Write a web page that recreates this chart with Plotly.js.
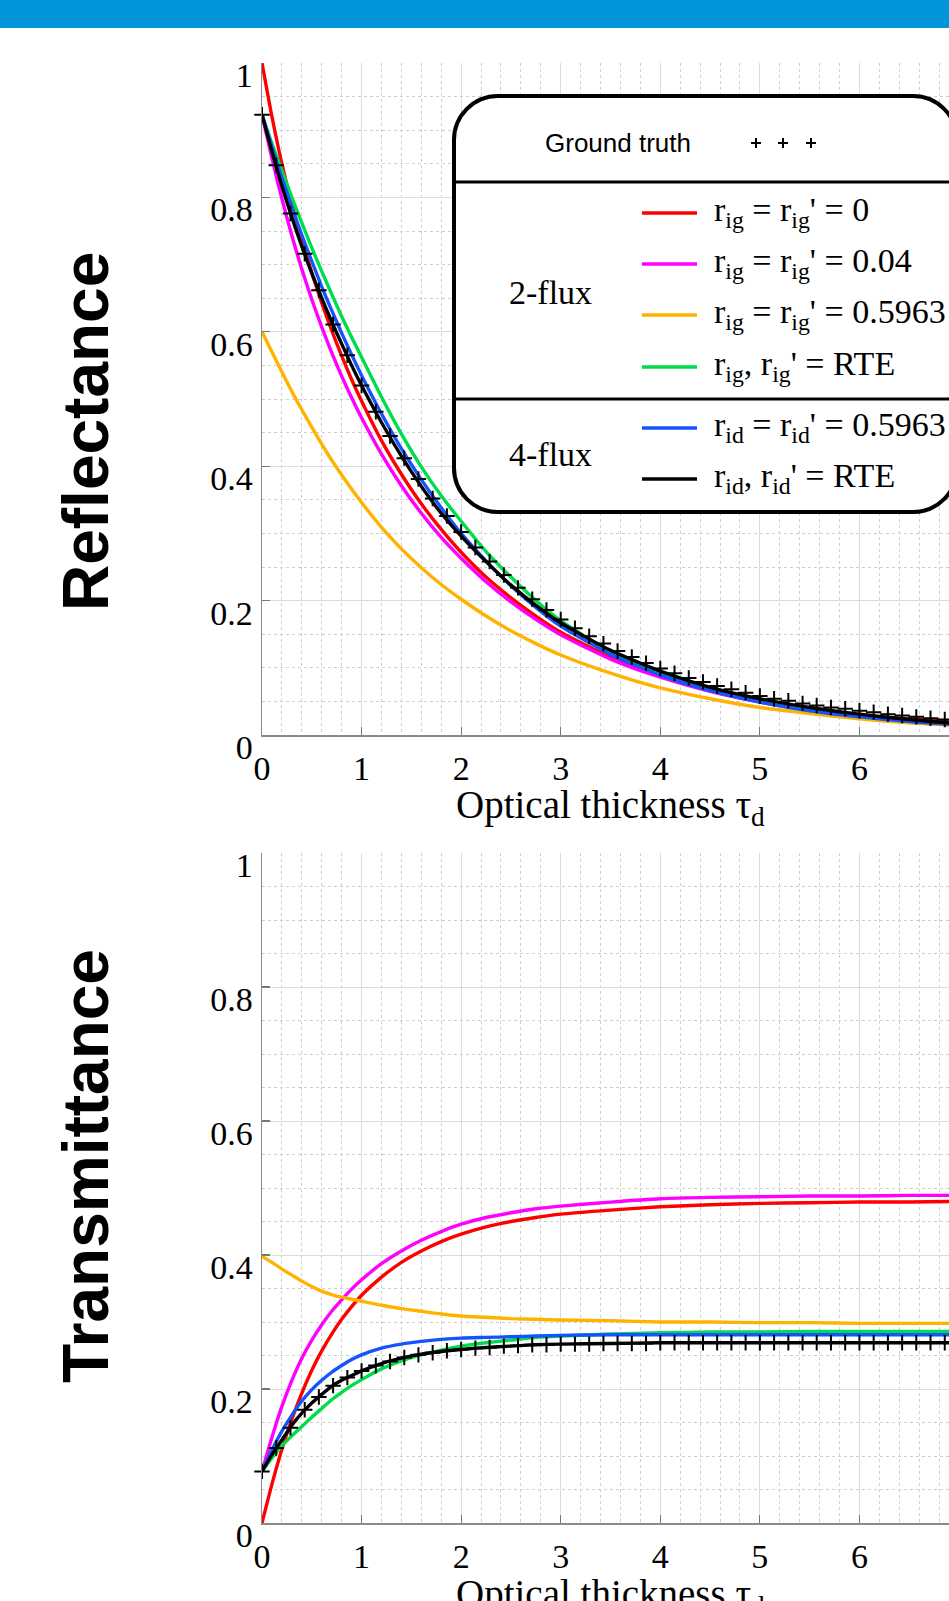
<!DOCTYPE html>
<html><head><meta charset="utf-8">
<script src="https://cdn.plot.ly/plotly-3.0.1.min.js"></script>
<style>html,body{margin:0;padding:0;overflow:hidden;background:#fff}</style>
</head><body><div id="chart" style="width:959px;height:1601px"></div>
<script>
// ---------- data ----------
const tau = [0,0.1,0.2,0.3,0.4,0.5,0.6,0.7,0.8,0.9,1.0,1.2,1.4,1.6,1.8,2.0,2.25,2.5,2.75,3.0,3.5,4.0,4.5,5.0,5.5,6.0,6.5,7.0];

// Reflectance
const R_ig0     = [1.000,0.920,0.850,0.790,0.737,0.688,0.643,0.602,0.564,0.529,0.497,0.438,0.388,0.344,0.306,0.272,0.235,0.204,0.177,0.153,0.116,0.088,0.066,0.050,0.038,0.029,0.024,0.020];
const R_ig004   = [0.923,0.858,0.798,0.743,0.693,0.648,0.607,0.569,0.534,0.502,0.472,0.418,0.371,0.330,0.294,0.263,0.228,0.198,0.172,0.149,0.113,0.086,0.065,0.049,0.037,0.028,0.021,0.016];
const R_ig5963  = [0.600,0.570,0.540,0.511,0.484,0.458,0.433,0.409,0.387,0.366,0.346,0.309,0.277,0.249,0.224,0.202,0.177,0.155,0.136,0.119,0.092,0.070,0.054,0.041,0.032,0.024,0.018,0.014];
const R_igRTE   = [0.923,0.880,0.840,0.800,0.762,0.725,0.690,0.656,0.623,0.592,0.562,0.503,0.448,0.399,0.356,0.318,0.273,0.235,0.200,0.170,0.124,0.091,0.067,0.050,0.037,0.028,0.021,0.016];
const R_id5963  = [0.923,0.875,0.829,0.785,0.744,0.705,0.667,0.632,0.598,0.566,0.535,0.478,0.426,0.380,0.338,0.300,0.259,0.222,0.190,0.162,0.120,0.089,0.066,0.049,0.036,0.027,0.020,0.015];
const R_idRTE   = [0.923,0.868,0.817,0.770,0.727,0.687,0.650,0.615,0.582,0.550,0.520,0.465,0.415,0.370,0.330,0.296,0.258,0.223,0.193,0.167,0.126,0.095,0.071,0.054,0.041,0.031,0.023,0.017];

// Transmittance
const T_ig0     = [0.000,0.058,0.110,0.155,0.194,0.228,0.257,0.282,0.304,0.323,0.340,0.367,0.389,0.406,0.420,0.431,0.442,0.450,0.456,0.461,0.467,0.472,0.475,0.477,0.478,0.479,0.479,0.480];
const T_ig004   = [0.077,0.128,0.174,0.213,0.246,0.273,0.296,0.316,0.333,0.349,0.363,0.387,0.406,0.422,0.435,0.446,0.456,0.463,0.469,0.473,0.479,0.484,0.486,0.487,0.488,0.488,0.489,0.489];
const T_ig5963  = [0.398,0.389,0.379,0.370,0.361,0.353,0.346,0.341,0.337,0.334,0.331,0.325,0.320,0.316,0.312,0.309,0.307,0.305,0.304,0.303,0.302,0.300,0.300,0.299,0.299,0.298,0.298,0.298];
const T_igRTE   = [0.077,0.097,0.115,0.130,0.144,0.158,0.171,0.184,0.195,0.205,0.214,0.230,0.242,0.251,0.258,0.264,0.269,0.273,0.277,0.279,0.282,0.284,0.285,0.285,0.286,0.286,0.286,0.286];
const T_id5963  = [0.077,0.109,0.137,0.161,0.182,0.199,0.213,0.225,0.235,0.244,0.251,0.261,0.267,0.271,0.274,0.276,0.277,0.278,0.279,0.280,0.281,0.281,0.281,0.281,0.281,0.281,0.281,0.281];
const T_idRTE   = [0.077,0.102,0.124,0.146,0.164,0.179,0.192,0.204,0.213,0.220,0.227,0.238,0.246,0.252,0.256,0.259,0.262,0.264,0.266,0.267,0.268,0.269,0.269,0.269,0.269,0.269,0.269,0.269];

// Ground truth samples
const gtTau = [0,0.143,0.286,0.429,0.571,0.714,0.857,1.000,1.143,1.286,1.429,1.571,1.714,1.857,2.000,2.143,2.286,2.429,2.571,2.714,2.857,3.000,3.143,3.286,3.429,3.571,3.714,3.857,4.000,4.143,4.286,4.429,4.571,4.714,4.857,5.000,5.143,5.286,5.429,5.571,5.714,5.857,6.000,6.143,6.286,6.429,6.571,6.714,6.857,7.000];
const gtR = [0.923,0.848,0.776,0.716,0.662,0.611,0.565,0.520,0.481,0.445,0.412,0.381,0.352,0.326,0.302,0.279,0.258,0.238,0.219,0.202,0.186,0.172,0.159,0.147,0.136,0.125,0.116,0.107,0.099,0.092,0.085,0.079,0.073,0.068,0.063,0.058,0.054,0.051,0.047,0.044,0.041,0.039,0.036,0.034,0.031,0.029,0.027,0.025,0.023,0.022];
const gtT = [0.077,0.112,0.142,0.169,0.188,0.205,0.217,0.227,0.235,0.241,0.247,0.251,0.254,0.257,0.259,0.261,0.262,0.264,0.265,0.266,0.266,0.267,0.267,0.267,0.268,0.268,0.268,0.268,0.269,0.269,0.269,0.269,0.269,0.269,0.269,0.269,0.269,0.269,0.269,0.269,0.269,0.269,0.269,0.269,0.269,0.269,0.269,0.269,0.269,0.269];

const names = ["r<sub>ig</sub> = r<sub>ig</sub>' = 0","r<sub>ig</sub> = r<sub>ig</sub>' = 0.04","r<sub>ig</sub> = r<sub>ig</sub>' = 0.5963","r<sub>ig</sub>, r<sub>ig</sub>' = RTE","r<sub>id</sub> = r<sub>id</sub>' = 0.5963","r<sub>id</sub>, r<sub>id</sub>' = RTE"];
const colors = ['#ff0000','#ff00ff','#ffb300','#00dd4c','#1454ff','#000000'];
const Rseries = [R_ig0,R_ig004,R_ig5963,R_igRTE,R_id5963,R_idRTE];
const Tseries = [T_ig0,T_ig004,T_ig5963,T_igRTE,T_id5963,T_idRTE];
const groupLabels = ['2-flux','4-flux'];
const gtLabel = 'Ground truth';
const xTitle = 'Optical thickness τ<sub>d</sub>';
const yTitles = ['Reflectance','Transmittance'];

// ---------- layout helpers ----------
const W=959, H=1601, L=262;
const PX = v => (v-L)/(W-L);
const PY = v => (H-v)/H;
const serif = "Liberation Serif, 'Times New Roman', serif";
const sans = "Liberation Sans, Arial, sans-serif";

const traces = [];
Rseries.forEach((s,i)=>traces.push({x:tau,y:s,xaxis:'x',yaxis:'y',mode:'lines',name:names[i],line:{color:colors[i],width:3.4,shape:'spline',smoothing:0.6},showlegend:false,hoverinfo:'skip'}));
traces.push({x:gtTau,y:gtR,xaxis:'x',yaxis:'y',mode:'markers',name:gtLabel,marker:{symbol:'cross-thin',size:11,line:{width:2,color:'#000'},color:'#000'},cliponaxis:false,showlegend:false,hoverinfo:'skip'});
Tseries.forEach((s,i)=>traces.push({x:tau,y:s,xaxis:'x2',yaxis:'y2',mode:'lines',name:names[i],line:{color:colors[i],width:3.4,shape:'spline',smoothing:0.6},showlegend:false,hoverinfo:'skip'}));
traces.push({x:gtTau,y:gtT,xaxis:'x2',yaxis:'y2',mode:'markers',name:gtLabel,marker:{symbol:'cross-thin',size:11,line:{width:2,color:'#000'},color:'#000'},cliponaxis:false,showlegend:false,hoverinfo:'skip'});

function xAx(anchor){ return {anchor, domain:[0,1], range:[0,7], tick0:0, dtick:1,
  showgrid:true, gridcolor:'#dcdcdc', gridwidth:1,
  minor:{dtick:0.2, showgrid:true, gridcolor:'#cfcfcf', griddash:'dot', gridwidth:1},
  zeroline:false, showline:true, linecolor:'#8a8a8a', linewidth:1.5,
  ticks:'inside', ticklen:8, tickwidth:1.2, tickcolor:'#777',
  tickfont:{family:serif, size:34, color:'#000'}, ticklabelstandoff:3, fixedrange:true}; }
function yAx(anchor, domain){ return {anchor, domain, range:[0,1], tick0:0, dtick:0.2,
  showgrid:true, gridcolor:'#dcdcdc', gridwidth:1,
  minor:{dtick:0.05, showgrid:true, gridcolor:'#cfcfcf', griddash:'dot', gridwidth:1},
  zeroline:false, showline:true, linecolor:'#8a8a8a', linewidth:1.5,
  ticks:'inside', ticklen:8, tickwidth:1.2, tickcolor:'#777',
  tickfont:{family:serif, size:34, color:'#000'}, ticklabelstandoff:1, ticklabelshift:12, fixedrange:true}; }

// legend geometry (pixels)
const bx0=454, bx1=957, by0=96, by1=512, r=44, kk=0.5523*r;
const P=(x,y)=>PX(x)+','+PY(y);
const boxPath = `M${P(bx0+r,by0)} L${P(bx1-r,by0)} C${P(bx1-r+kk,by0)} ${P(bx1,by0+r-kk)} ${P(bx1,by0+r)} L${P(bx1,by1-r)} C${P(bx1,by1-r+kk)} ${P(bx1-r+kk,by1)} ${P(bx1-r,by1)} L${P(bx0+r,by1)} C${P(bx0+r-kk,by1)} ${P(bx0,by1-r+kk)} ${P(bx0,by1-r)} L${P(bx0,by0+r)} C${P(bx0,by0+r-kk)} ${P(bx0+r-kk,by0)} ${P(bx0+r,by0)} Z`;
const rowsY = [213,264,315,367,428,479];

const shapes = [
  {type:'rect',xref:'paper',yref:'paper',x0:PX(0),x1:PX(W),y0:PY(28),y1:1,fillcolor:'#0094d8',line:{width:0},layer:'above'},
  {type:'path',xref:'paper',yref:'paper',path:boxPath,fillcolor:'#ffffff',line:{color:'#000',width:4},layer:'above'},
  {type:'line',xref:'paper',yref:'paper',x0:PX(bx0),x1:PX(bx1),y0:PY(182),y1:PY(182),line:{color:'#000',width:3},layer:'above'},
  {type:'line',xref:'paper',yref:'paper',x0:PX(bx0),x1:PX(bx1),y0:PY(399),y1:PY(399),line:{color:'#000',width:3},layer:'above'}
];
rowsY.forEach((yy,i)=>shapes.push({type:'line',xref:'paper',yref:'paper',x0:PX(642),x1:PX(697),y0:PY(yy),y1:PY(yy),line:{color:colors[i],width:3.4},layer:'above'}));
[756,783,811].forEach(cx=>{
  shapes.push({type:'line',xref:'paper',yref:'paper',x0:PX(cx-5),x1:PX(cx+5),y0:PY(143),y1:PY(143),line:{color:'#000',width:2},layer:'above'});
  shapes.push({type:'line',xref:'paper',yref:'paper',x0:PX(cx),x1:PX(cx),y0:PY(138),y1:PY(148),line:{color:'#000',width:2},layer:'above'});
});

const annotations = [
  {text:gtLabel,xref:'paper',yref:'paper',x:PX(618),y:PY(143),xanchor:'center',yanchor:'middle',showarrow:false,font:{family:sans,size:26,color:'#000'}},
  {text:groupLabels[0],xref:'paper',yref:'paper',x:PX(507),y:PY(292),xanchor:'left',yanchor:'middle',showarrow:false,font:{family:serif,size:34,color:'#000'}},
  {text:groupLabels[1],xref:'paper',yref:'paper',x:PX(507),y:PY(455),xanchor:'left',yanchor:'middle',showarrow:false,font:{family:serif,size:34,color:'#000'}},
  {text:'<b>'+yTitles[0]+'</b>',xref:'paper',yref:'paper',x:PX(86),y:PY(432),xanchor:'center',yanchor:'middle',textangle:-90,showarrow:false,font:{family:sans,size:64,color:'#000'}},
  {text:'<b>'+yTitles[1]+'</b>',xref:'paper',yref:'paper',x:PX(86),y:PY(1166),xanchor:'center',yanchor:'middle',textangle:-90,showarrow:false,font:{family:sans,size:64,color:'#000'}},
  {text:xTitle,xref:'x',yref:'paper',x:3.5,y:PY(808),xanchor:'center',yanchor:'middle',showarrow:false,font:{family:serif,size:39,color:'#000'}},
  {text:xTitle,xref:'x2',yref:'paper',x:3.5,y:PY(1596),xanchor:'center',yanchor:'middle',showarrow:false,font:{family:serif,size:39,color:'#000'}}
];
rowsY.forEach((yy,i)=>annotations.push({text:names[i],xref:'paper',yref:'paper',x:PX(712),y:PY(yy-1),xanchor:'left',yanchor:'middle',showarrow:false,font:{family:serif,size:34,color:'#000'}}));

const layout = {
  width:W, height:H, margin:{l:L,r:0,t:0,b:0}, paper_bgcolor:'#fff', plot_bgcolor:'#fff',
  showlegend:false,
  xaxis:xAx('y'), yaxis:yAx('x',[PY(735),PY(63)]),
  xaxis2:xAx('y2'), yaxis2:yAx('x2',[PY(1523),PY(853)]),
  shapes, annotations
};
Plotly.newPlot('chart', traces, layout, {staticPlot:true, displayModeBar:false});
</script></body></html>
